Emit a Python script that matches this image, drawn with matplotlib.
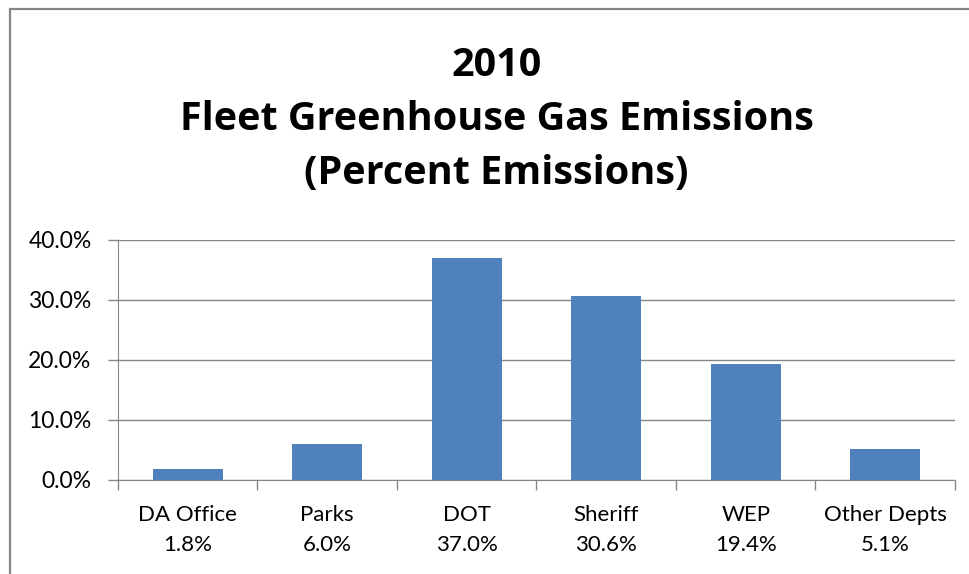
import matplotlib
matplotlib.use('Agg')
import matplotlib.pyplot as plt
from matplotlib.patches import Rectangle
from matplotlib.ticker import FuncFormatter, FixedLocator
import numpy as np

# Fleet emissions share by department, 2010
departments = ['DA Office', 'Parks', 'DOT', 'Sheriff', 'WEP', 'Other Depts']
percent = [1.8, 6.0, 37.0, 30.6, 19.4, 5.1]
y_ticks = [0, 10, 20, 30, 40]

bar_color = '#4F81BD'
line_color = '#868686'
tick_font = ['Lato', 'DejaVu Sans']

fig = plt.figure(figsize=(9.7, 5.74), dpi=100)
ax = fig.add_axes([0.1216, 0.1638, 0.8629, 0.4181])

x = np.arange(len(departments))
ax.bar(x, percent, width=0.5, color=bar_color, zorder=3)

ax.set_xlim(-0.5, len(departments) - 0.5)
ax.set_ylim(0, 40)
ax.yaxis.set_major_locator(FixedLocator(y_ticks))
ax.yaxis.set_major_formatter(FuncFormatter(lambda v, p: '%.1f%%' % v))
ax.grid(axis='y', color=line_color, linewidth=1, zorder=0)

# category labels carry the value underneath
ax.set_xticks(x)
ax.set_xticklabels(['%s\n%.1f%%' % (d, p) for d, p in zip(departments, percent)],
                   family=tick_font, fontsize=16, linespacing=1.65)
ax.set_xticks(np.arange(len(departments) + 1) - 0.5, minor=True)
ax.tick_params(axis='x', which='major', length=0, pad=18)
ax.tick_params(axis='x', which='minor', length=7, color=line_color, width=1)
ax.tick_params(axis='y', length=7, color=line_color, width=1, pad=12)
for lab in ax.get_yticklabels():
    lab.set_family(tick_font)
    lab.set_fontsize(16.5)

for side in ['top', 'right']:
    ax.spines[side].set_visible(False)
ax.spines['left'].set_color(line_color)
ax.spines['bottom'].set_color(line_color)

fig.text(0.512, 0.791, '2010\nFleet Greenhouse Gas Emissions\n(Percent Emissions)',
         ha='center', va='center', fontsize=28.5, fontweight='bold',
         family=['Open Sans', 'DejaVu Sans'], linespacing=1.5)

# chart frame, cut off at the right and bottom
fig.patches.append(Rectangle((10 / 970, -0.1), 1.1, 0.1 + 1 - 9 / 574,
                             transform=fig.transFigure, fill=False,
                             edgecolor=line_color, linewidth=1.6))

plt.savefig('out.png', dpi=100)
